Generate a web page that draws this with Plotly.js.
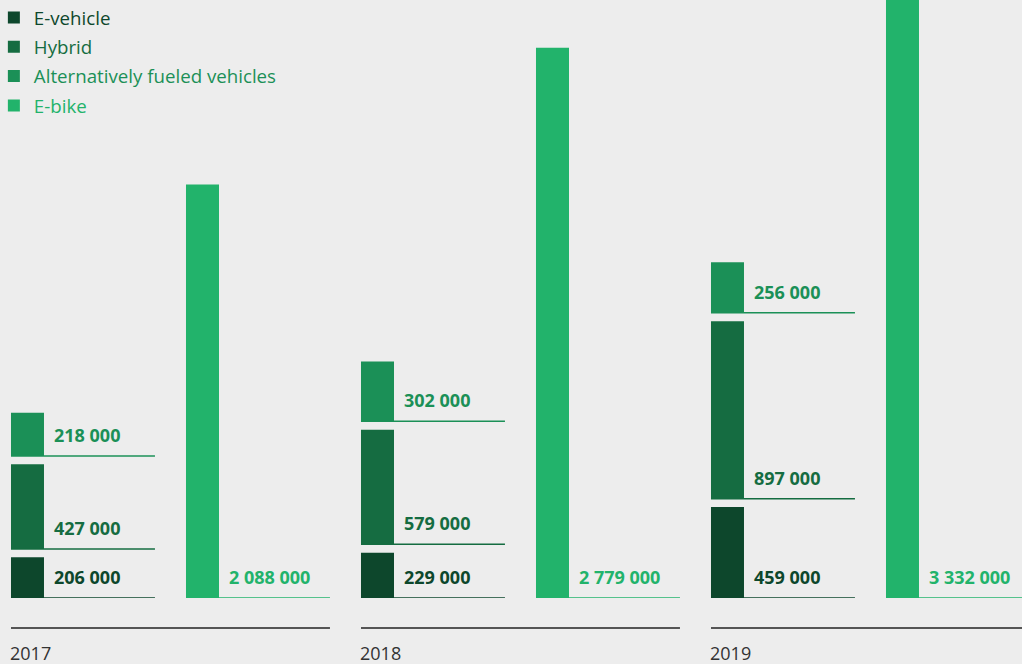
<!DOCTYPE html>
<html>
<head>
<meta charset="utf-8">
<script src="https://cdn.plot.ly/plotly-3.0.1.min.js"></script>
<style>
html,body{margin:0;padding:0;background:#ededed;}
#chart{width:1022px;height:664px;}
</style>
</head>
<body>
<div id="chart"></div>
<script>
// ---- data ----
const years = ['2017', '2018', '2019'];
const eVehicle = [206000, 229000, 459000];
const hybrid = [427000, 579000, 897000];
const altFuel = [218000, 302000, 256000];
const eBike = [2088000, 2779000, 3332000];
const seriesNames = ['E-vehicle', 'Hybrid', 'Alternatively fueled vehicles', 'E-bike'];

// ---- style ----
const colors = ['#0d472c', '#156c41', '#1b9057', '#22b36b'];
const BG = '#ededed';
const GAP = 42000;          // visual gap between stacked segments (data units)
const BAR_W = 0.1886;       // bar width in x units
const LINE_EXT = 0.634;     // length of the label underline beyond the bar
const FONT = 'Open Sans, Noto Sans, sans-serif';

const fmt = v => String(v).replace(/\B(?=(\d{3})+(?!\d))/g, ' ');

const xStack = years.map((y, i) => 2 * i);
const xBike = years.map((y, i) => 2 * i + 1);

// bases for stacked segments (with gaps)
const stackVals = [eVehicle, hybrid, altFuel];
const bases = [];
stackVals.forEach((vals, s) => {
  bases.push(vals.map((v, i) => {
    let b = 0;
    for (let k = 0; k < s; k++) b += stackVals[k][i] + GAP;
    return b;
  }));
});

const traces = [];
stackVals.forEach((vals, s) => {
  traces.push({
    type: 'bar',
    name: '<span style="color:' + colors[s] + '">' + seriesNames[s] + '</span>',
    x: xStack, y: vals, base: bases[s], width: BAR_W,
    marker: {color: colors[s], line: {width: 0}},
    legendgroup: 'g' + s,
    hoverinfo: 'none'
  });
});
traces.push({
  type: 'bar',
  name: '<span style="color:' + colors[3] + '">' + seriesNames[3] + '</span>',
  x: xBike, y: eBike, base: eBike.map(() => 0), width: BAR_W,
  marker: {color: colors[3], line: {width: 0}},
  legendgroup: 'g3',
  hoverinfo: 'none'
});

const shapes = [];
const annotations = [];
years.forEach((yr, i) => {
  stackVals.forEach((vals, s) => {
    shapes.push({type: 'line', xref: 'x', yref: 'y',
      x0: xStack[i] - BAR_W / 2, x1: xStack[i] + BAR_W / 2 + LINE_EXT,
      y0: bases[s][i], y1: bases[s][i],
      line: {color: colors[s], width: 1.5}});
    annotations.push({xref: 'x', yref: 'y', x: xStack[i] + BAR_W / 2, y: bases[s][i],
      xanchor: 'left', yanchor: 'middle', xshift: 8, yshift: 21, showarrow: false,
      text: fmt(vals[i]), font: {family: FONT, size: 18, color: colors[s], weight: 700}});
  });
  shapes.push({type: 'line', xref: 'x', yref: 'y',
    x0: xBike[i] - BAR_W / 2, x1: xBike[i] + BAR_W / 2 + LINE_EXT,
    y0: 0, y1: 0, line: {color: colors[3], width: 1.5}});
  annotations.push({xref: 'x', yref: 'y', x: xBike[i] + BAR_W / 2, y: 0,
    xanchor: 'left', yanchor: 'middle', xshift: 8, yshift: 21, showarrow: false,
    text: fmt(eBike[i]), font: {family: FONT, size: 18, color: colors[3], weight: 700}});
  // year axis line + label
  shapes.push({type: 'line', xref: 'x', yref: 'paper',
    x0: xStack[i] - BAR_W / 2, x1: xBike[i] + BAR_W / 2 + LINE_EXT,
    y0: -0.05, y1: -0.05, line: {color: '#222', width: 1.5}});
  annotations.push({xref: 'x', yref: 'paper', x: xStack[i] - BAR_W / 2, y: -0.092,
    xanchor: 'left', yanchor: 'middle', xshift: -3, showarrow: false,
    text: yr, font: {family: FONT, size: 18, color: '#333'}});
});

const layout = {
  width: 1022, height: 664,
  paper_bgcolor: BG, plot_bgcolor: BG,
  margin: {l: 0, r: 0, t: 0, b: 66, pad: 0, autoexpand: false},
  barmode: 'overlay',
  showlegend: true,
  legend: {x: -0.006, y: 1.002, xanchor: 'left', yanchor: 'top',
    bgcolor: 'rgba(0,0,0,0)', traceorder: 'grouped', tracegroupgap: 2,
    font: {family: FONT, size: 18.7, color: '#333'}},
  xaxis: {range: [-0.1571, 5.6829], visible: false, fixedrange: true},
  yaxis: {range: [0, 3.02e6], visible: false, fixedrange: true},
  shapes: shapes,
  annotations: annotations
};

Plotly.newPlot('chart', traces, layout, {displayModeBar: false, staticPlot: true});
</script>
</body>
</html>
